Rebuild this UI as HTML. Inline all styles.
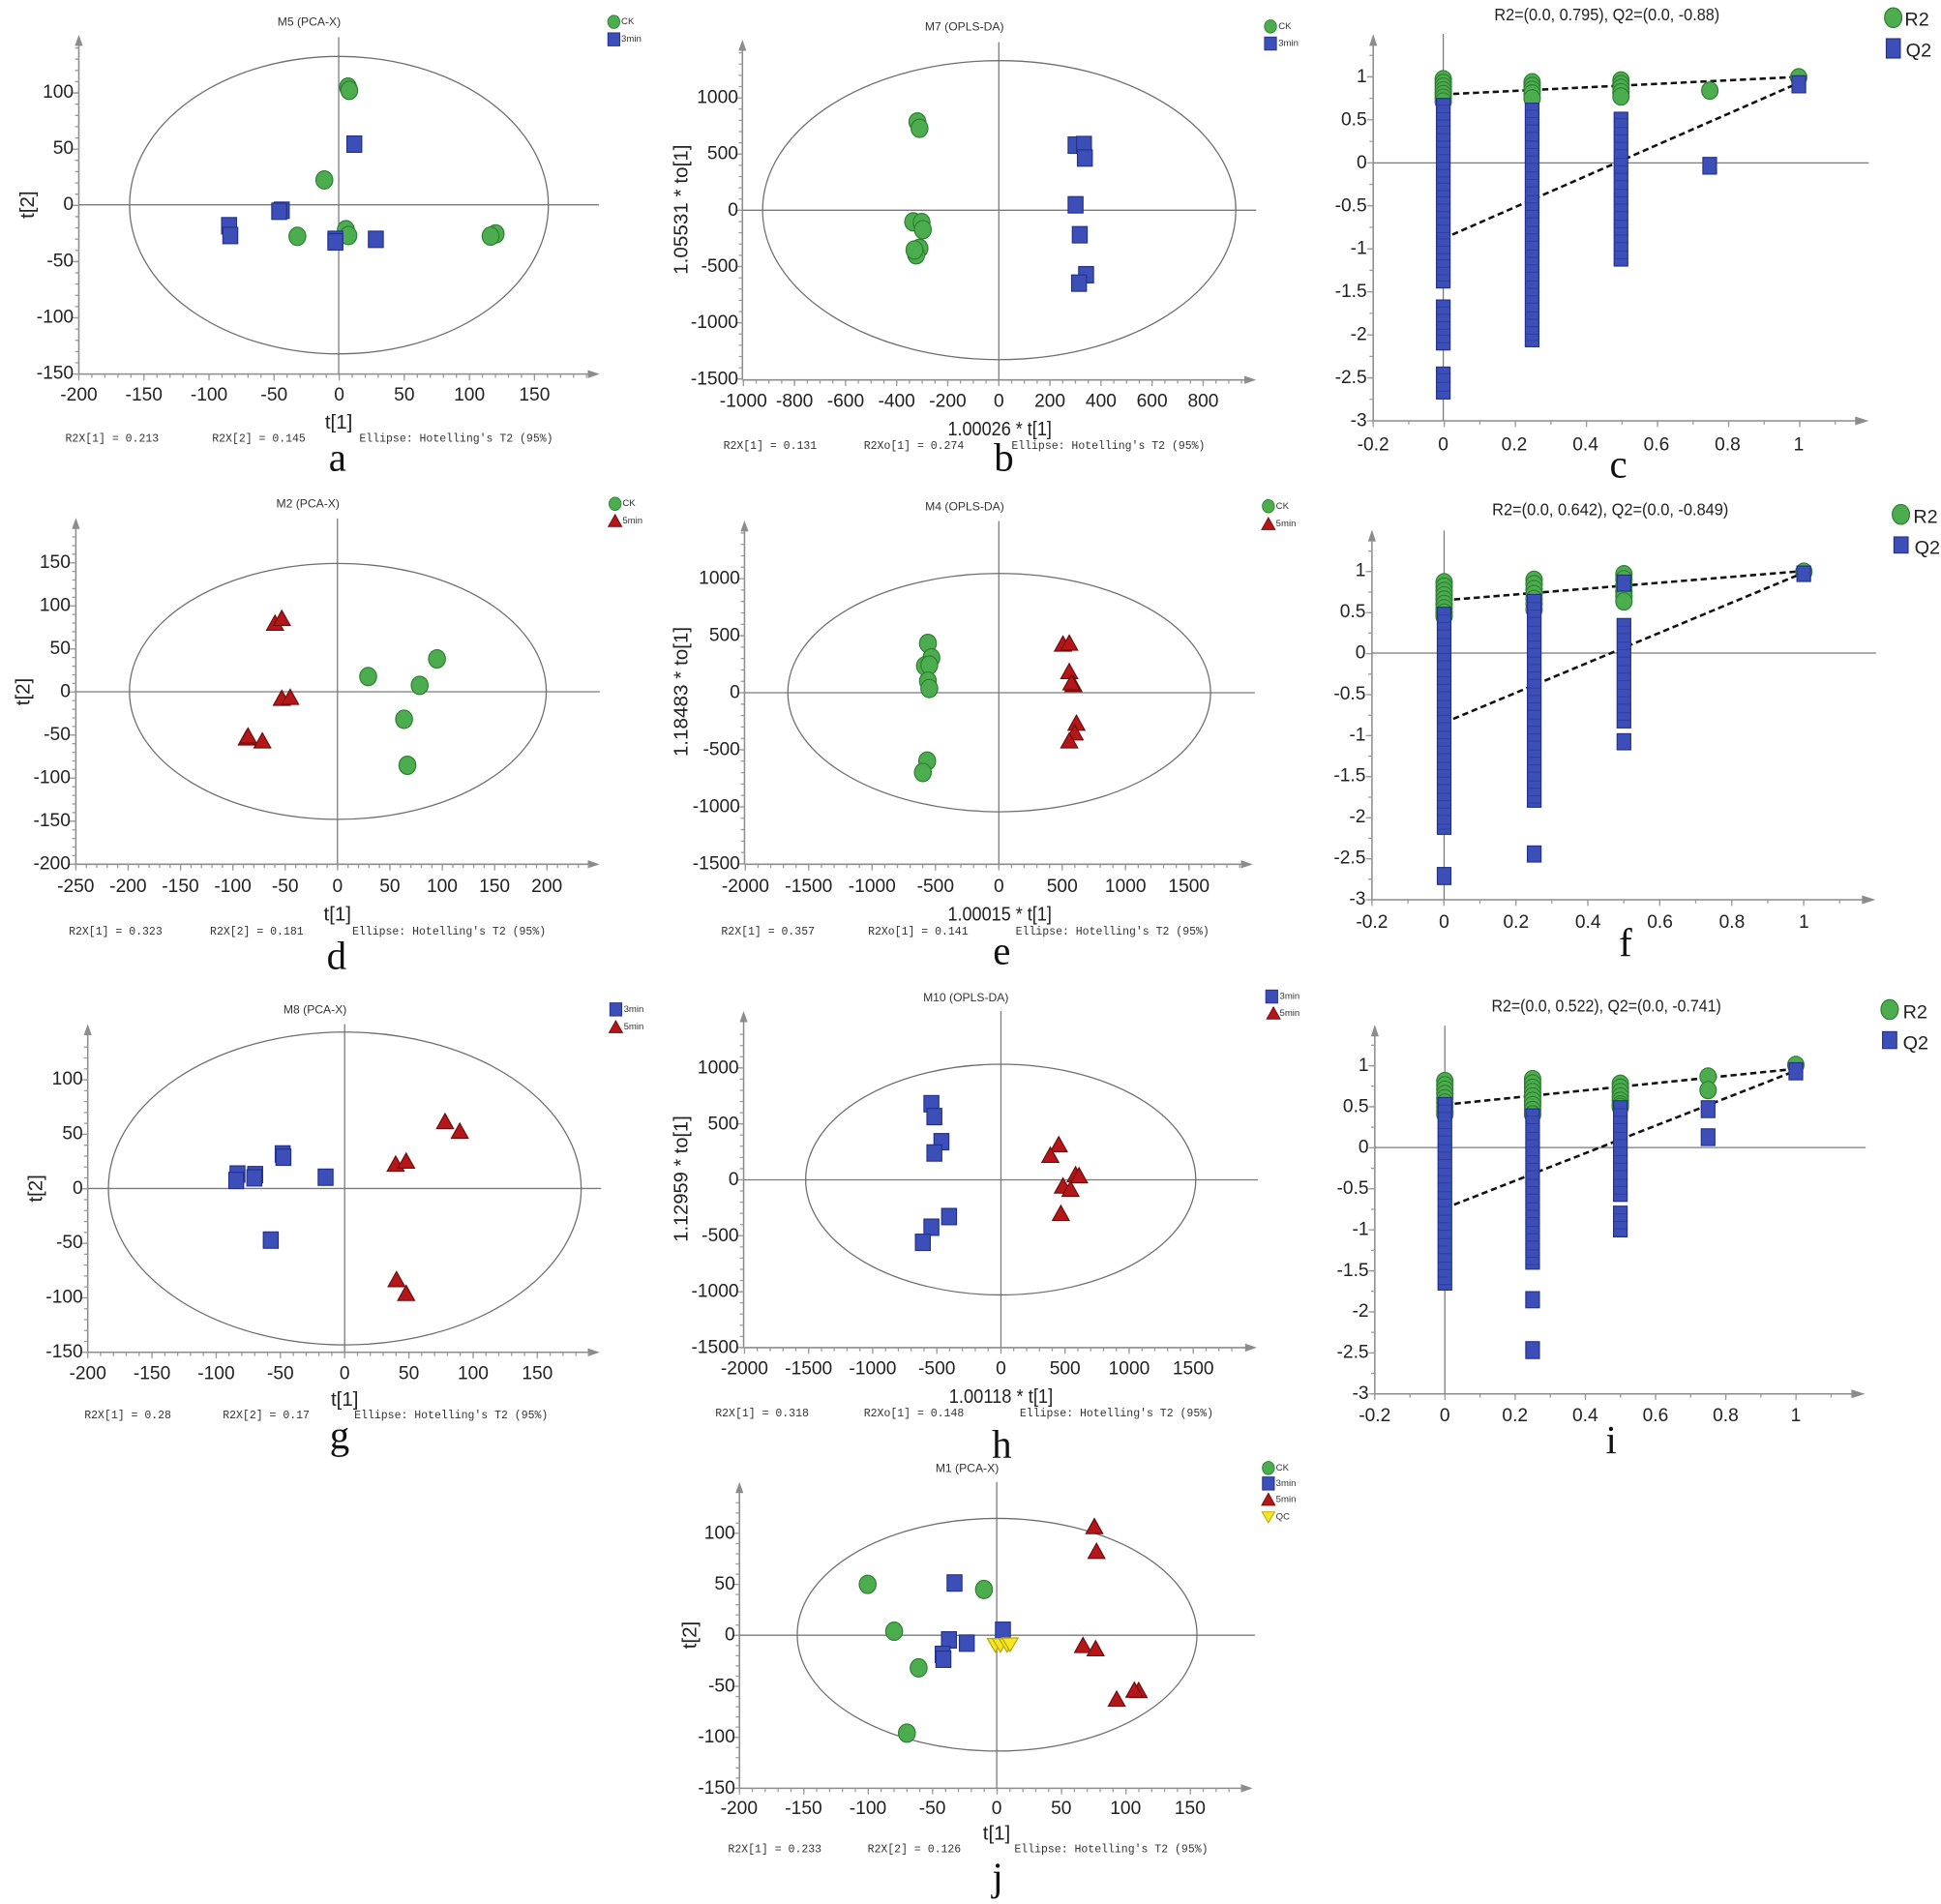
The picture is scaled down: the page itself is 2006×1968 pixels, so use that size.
<!DOCTYPE html>
<html><head><meta charset="utf-8">
<style>
html,body{margin:0;padding:0;background:#fff;}
svg{display:block;}
text{font-family:"Liberation Sans",sans-serif;dominant-baseline:central;}
.tk{font-size:15px;fill:#222;}
.ye{text-anchor:end;}
.mid{text-anchor:middle;}
.ft{font-family:"Liberation Mono",monospace;font-size:9px;fill:#333;}
.ttl{font-size:9.5px;fill:#333;text-anchor:middle;}
.lg{font-size:7.5px;fill:#333;}
.lab{font-size:16px;fill:#222;text-anchor:middle;}
.ax{stroke:#8c8c8c;stroke-width:1.2;fill:none;}
.cr{stroke:#7a7a7a;stroke-width:1;}
.el{stroke:#6e6e6e;stroke-width:1;fill:none;}
.mt{stroke:#9a9a9a;fill:none;}
.pl{font-family:"Liberation Serif",serif;font-size:32px;fill:#111;text-anchor:middle;dominant-baseline:alphabetic;}
.dl{stroke:#111;stroke-width:2;stroke-dasharray:5 3;fill:none;}
.ar{fill:#8c8c8c;}
.qb{fill:#3c4eb8;stroke:#243189;stroke-width:0.9;}
.st{stroke:#26338c;stroke-width:0.8;fill:none;stroke-opacity:0.55;}
.big{font-size:15.5px;fill:#222;}
.rt{font-size:13.5px;fill:#222;text-anchor:middle;}
</style></head><body>
<svg width="2006" height="1968" viewBox="0 0 1568.4 1538.6" preserveAspectRatio="none">
<defs>
<ellipse id="G" rx="6.8" ry="7.4" fill="#4bad4e" stroke="#2e7d32" stroke-width="0.9"/>
<rect id="B" x="-6" y="-6.6" width="12" height="13.2" fill="#3c4eb8" stroke="#243189" stroke-width="0.9"/>
<path id="R" d="M0,-7.2 L6.8,5 L-6.8,5 Z" fill="#b5161a" stroke="#6e0b0b" stroke-width="0.9"/>
<path id="Y" d="M-6.5,-5 L6.5,-5 L0,6 Z" fill="#f5e625" stroke="#b7a400" stroke-width="0.9"/>
<ellipse id="g2" rx="6.6" ry="7" fill="#4bad4e" stroke="#2e7d32" stroke-width="0.9"/>
</defs>
<rect x="0" y="0" width="1568.4" height="1538.6" fill="#fff"/>

<!-- ================= PANEL a ================= -->
<text class="ttl" x="249.8" y="17.7">M5 (PCA-X)</text>
<use href="#G" transform="translate(496,17.7) scale(0.72)"/>
<text class="lg" x="502" y="17.7">CK</text>
<use href="#B" transform="translate(496,31.8) scale(0.8)"/>
<text class="lg" x="502" y="31.8">3min</text>
<line class="ax" x1="63.7" y1="302.3" x2="63.7" y2="34"/>
<path class="ar" d="M63.7,28 L60.5,37 L66.9,37Z"/>
<line class="ax" x1="63.7" y1="302.3" x2="478" y2="302.3"/>
<path class="ar" d="M484.5,302.3 L475,299 L475,305.6Z"/>
<line class="cr" x1="273.7" y1="30" x2="273.7" y2="302.3"/>
<line class="cr" x1="63.7" y1="165.5" x2="484" y2="165.5"/>
<ellipse class="el" cx="273.9" cy="165.8" rx="169.2" ry="120.2"/>
<line class="mt" x1="62.2" y1="302.8" x2="62.2" y2="38" stroke-width="3" stroke-dasharray="1 8.088"/>
<line class="mt" x1="61.2" y1="302.8" x2="61.2" y2="70" stroke-width="5" stroke-dasharray="1 44.44"/>
<line class="mt" x1="63.2" y1="303.8" x2="478" y2="303.8" stroke-width="3" stroke-dasharray="1 9.52"/>
<line class="mt" x1="63.2" y1="304.8" x2="470" y2="304.8" stroke-width="5" stroke-dasharray="1 51.6"/>
<g class="tk ye">
<text x="59.5" y="74.6">100</text><text x="59.5" y="120.1">50</text><text x="59.5" y="165.5">0</text>
<text x="59.5" y="210.9">-50</text><text x="59.5" y="256.4">-100</text><text x="59.5" y="301.8">-150</text>
</g>
<g class="tk mid">
<text x="63.7" y="319.3">-200</text><text x="116.3" y="319.3">-150</text><text x="168.9" y="319.3">-100</text>
<text x="221.5" y="319.3">-50</text><text x="274.1" y="319.3">0</text><text x="326.7" y="319.3">50</text>
<text x="379.3" y="319.3">100</text><text x="431.9" y="319.3">150</text>
</g>
<text class="lab" x="22.2" y="165.5" transform="rotate(-90 22.2 165.5)">t[2]</text>
<text class="lab" x="273.7" y="341.4">t[1]</text>
<text class="ft" x="52.8" y="355">R2X[1] = 0.213</text>
<text class="ft" x="171.4" y="355">R2X[2] = 0.145</text>
<text class="ft" x="290.4" y="355">Ellipse: Hotelling's T2 (95%)</text>
<text class="pl" x="272.7" y="380.5">a</text>
<use href="#G" x="281.2" y="70.4"/><use href="#G" x="282.2" y="73"/><use href="#G" x="262.1" y="145.4"/>
<use href="#G" x="240.3" y="191"/><use href="#G" x="279.5" y="185.6"/><use href="#G" x="281.5" y="190.3"/>
<use href="#G" x="400.5" y="189"/><use href="#G" x="396.4" y="190.8"/>
<use href="#B" x="286.3" y="116.5"/><use href="#B" x="227.7" y="169.9"/><use href="#B" x="225.6" y="170.7"/>
<use href="#B" x="185.1" y="182.4"/><use href="#B" x="186.1" y="190.3"/><use href="#B" x="271" y="193.4"/>
<use href="#B" x="271" y="195.5"/><use href="#B" x="303.7" y="193.4"/>

<!-- ================= PANEL b ================= -->
<text class="ttl" x="779.3" y="21.4">M7 (OPLS-DA)</text>
<use href="#G" transform="translate(1026.6,21.4) scale(0.72)"/>
<text class="lg" x="1033" y="21.4">CK</text>
<use href="#B" transform="translate(1026.6,35.2) scale(0.8)"/>
<text class="lg" x="1033" y="35.2">3min</text>
<line class="ax" x1="599.9" y1="307" x2="599.9" y2="38"/>
<path class="ar" d="M599.9,32 L596.7,41 L603.1,41Z"/>
<line class="ax" x1="599.9" y1="307" x2="1008" y2="307"/>
<path class="ar" d="M1015,307 L1005.5,303.7 L1005.5,310.3Z"/>
<line class="cr" x1="807.1" y1="34" x2="807.1" y2="307"/>
<line class="cr" x1="599.9" y1="169.9" x2="1015" y2="169.9"/>
<ellipse class="el" cx="807.4" cy="169.8" rx="191.2" ry="120.8"/>
<line class="mt" x1="598.4" y1="306.8" x2="598.4" y2="40" stroke-width="3" stroke-dasharray="1 8.09"/>
<line class="mt" x1="597.4" y1="306.8" x2="597.4" y2="75" stroke-width="5" stroke-dasharray="1 44.45"/>
<line class="mt" x1="600.2" y1="308.5" x2="1005" y2="308.5" stroke-width="3" stroke-dasharray="1 9.32"/>
<line class="mt" x1="600.2" y1="309.5" x2="990" y2="309.5" stroke-width="5" stroke-dasharray="1 40.28"/>
<g class="tk ye">
<text x="596.5" y="79">1000</text><text x="596.5" y="124.5">500</text><text x="596.5" y="169.9">0</text>
<text x="596.5" y="215.4">-500</text><text x="596.5" y="260.8">-1000</text><text x="596.5" y="306.3">-1500</text>
</g>
<g class="tk mid">
<text x="600.7" y="324.5">-1000</text><text x="642" y="324.5">-800</text><text x="683.3" y="324.5">-600</text>
<text x="724.5" y="324.5">-400</text><text x="765.8" y="324.5">-200</text><text x="807.1" y="324.5">0</text>
<text x="848.4" y="324.5">200</text><text x="889.7" y="324.5">400</text><text x="930.9" y="324.5">600</text>
<text x="972.2" y="324.5">800</text>
</g>
<text class="lab" x="550.5" y="169.4" textLength="105" lengthAdjust="spacingAndGlyphs" transform="rotate(-90 550.5 169.4)">1.05531 * to[1]</text>
<text class="lab" x="807.8" y="346.6" textLength="84" lengthAdjust="spacingAndGlyphs">1.00026 * t[1]</text>
<text class="ft" x="584.5" y="361">R2X[1] = 0.131</text>
<text class="ft" x="698" y="361">R2Xo[1] = 0.274</text>
<text class="ft" x="817.3" y="361">Ellipse: Hotelling's T2 (95%)</text>
<text class="pl" x="811.2" y="380.5">b</text>
<use href="#G" x="741.3" y="98.5"/><use href="#G" x="743" y="103.7"/>
<use href="#G" x="737.9" y="179.3"/><use href="#G" x="744.7" y="179.8"/><use href="#G" x="745.7" y="185.6"/>
<use href="#G" x="743" y="200.7"/><use href="#G" x="740.3" y="205.9"/><use href="#G" x="738.9" y="202"/>
<use href="#B" x="869.1" y="117.3"/><use href="#B" x="875.9" y="116.8"/><use href="#B" x="876.6" y="127.7"/>
<use href="#B" x="869.1" y="165.5"/><use href="#B" x="872.5" y="189.7"/><use href="#B" x="877.6" y="222"/>
<use href="#B" x="871.9" y="228.8"/>

<!-- ================= PANEL c ================= -->
<text class="rt" x="1298.5" y="11.7" textLength="182" lengthAdjust="spacingAndGlyphs">R2=(0.0, 0.795), Q2=(0.0, -0.88)</text>
<ellipse cx="1529.8" cy="14.3" rx="7" ry="8" fill="#4bad4e" stroke="#2e7d32" stroke-width="0.9"/>
<text class="big" x="1539" y="16">R2</text>
<rect x="1524.2" y="31.3" width="11.3" height="15.6" class="qb"/>
<text class="big" x="1540" y="41">Q2</text>
<line class="ax" x1="1109.6" y1="340.1" x2="1109.6" y2="34"/>
<path class="ar" d="M1109.6,27.5 L1106.4,37 L1112.8,37Z"/>
<line class="ax" x1="1109.6" y1="340.1" x2="1500" y2="340.1"/>
<path class="ar" d="M1510,340.1 L1499,336.6 L1499,343.6Z"/>
<line class="cr" x1="1166.2" y1="27.4" x2="1166.2" y2="340.1" stroke="#aaa"/>
<line class="cr" x1="1109.6" y1="131.6" x2="1510" y2="131.6" stroke="#999"/>
<line class="mt" x1="1108.1" y1="340.6" x2="1108.1" y2="40" stroke-width="3" stroke-dasharray="1 16.375"/>
<line class="mt" x1="1107.1" y1="340.6" x2="1107.1" y2="55" stroke-width="5" stroke-dasharray="1 33.75"/>
<line class="mt" x1="1109.1" y1="341.6" x2="1490" y2="341.6" stroke-width="3" stroke-dasharray="1 27.72"/>
<line class="mt" x1="1109.1" y1="342.6" x2="1460" y2="342.6" stroke-width="5" stroke-dasharray="1 56.44"/>
<g class="tk ye">
<text x="1104.5" y="62.1">1</text><text x="1104.5" y="96.9">0.5</text><text x="1104.5" y="131.6">0</text>
<text x="1104.5" y="166.4">-0.5</text><text x="1104.5" y="201.1">-1</text><text x="1104.5" y="235.9">-1.5</text>
<text x="1104.5" y="270.6">-2</text><text x="1104.5" y="305.4">-2.5</text><text x="1104.5" y="340.1">-3</text>
</g>
<g class="tk mid">
<text x="1109.6" y="359.7">-0.2</text><text x="1166.2" y="359.7">0</text><text x="1223.6" y="359.7">0.2</text>
<text x="1281.1" y="359.7">0.4</text><text x="1338.5" y="359.7">0.6</text><text x="1396" y="359.7">0.8</text>
<text x="1453.4" y="359.7">1</text>
</g>
<line class="dl" x1="1166.2" y1="76.3" x2="1453.4" y2="62.1"/>
<line class="dl" x1="1166.2" y1="192.8" x2="1453.4" y2="67"/>
<use href="#g2" x="1166.2" y="64"/><use href="#g2" x="1166.2" y="67"/><use href="#g2" x="1166.2" y="70"/>
<use href="#g2" x="1166.2" y="73"/><use href="#g2" x="1166.2" y="76"/><use href="#g2" x="1166.2" y="79"/><use href="#g2" x="1166.2" y="82"/>
<use href="#g2" x="1238" y="66.5"/><use href="#g2" x="1238" y="69.5"/><use href="#g2" x="1238" y="72.5"/>
<use href="#g2" x="1238" y="75.5"/><use href="#g2" x="1238" y="79.5"/>
<use href="#g2" x="1309.8" y="65"/><use href="#g2" x="1309.8" y="68"/><use href="#g2" x="1309.8" y="71"/>
<use href="#g2" x="1309.8" y="74.5"/><use href="#g2" x="1309.8" y="78"/>
<use href="#g2" x="1381.6" y="73.2"/>
<use href="#g2" x="1453.4" y="62.5"/>
<rect class="qb" x="1160.7" y="79.5" width="11" height="153.2"/>
<rect class="qb" x="1160.7" y="242.4" width="11" height="40.4"/>
<rect class="qb" x="1160.7" y="296.6" width="11" height="25.8"/>
<rect class="qb" x="1232.5" y="83.4" width="11" height="196.8"/>
<rect class="qb" x="1304.3" y="90.7" width="11" height="124.3"/>
<rect class="qb" x="1376" y="127.2" width="11" height="13.5"/>
<rect class="qb" x="1448" y="61.2" width="11" height="13.8"/>
<path class="st" d="M1160.7,85h11M1160.7,91h11M1160.7,97h11M1160.7,102h11M1160.7,108h11M1160.7,114h11M1160.7,119h11M1160.7,125h11M1160.7,131h11M1160.7,137h11M1160.7,143h11M1160.7,148h11M1160.7,154h11M1160.7,159h11M1160.7,165h11M1160.7,171h11M1160.7,176h11M1160.7,182h11M1160.7,188h11M1160.7,193h11M1160.7,199h11M1160.7,205h11M1160.7,210h11M1160.7,216h11M1160.7,222h11M1160.7,227h11M1160.7,248h11M1160.7,254h11M1160.7,260h11M1160.7,266h11M1160.7,271h11M1160.7,277h11M1160.7,302h11M1160.7,309h11M1160.7,316h11
M1232.5,89h11M1232.5,95h11M1232.5,101h11M1232.5,107h11M1232.5,114h11M1232.5,120h11M1232.5,126h11M1232.5,132h11M1232.5,139h11M1232.5,145h11M1232.5,151h11M1232.5,158h11M1232.5,164h11M1232.5,170h11M1232.5,176h11M1232.5,183h11M1232.5,189h11M1232.5,195h11M1232.5,202h11M1232.5,208h11M1232.5,214h11M1232.5,220h11M1232.5,227h11M1232.5,233h11M1232.5,239h11M1232.5,245h11M1232.5,252h11M1232.5,258h11M1232.5,264h11M1232.5,270h11M1232.5,275h11
M1304.3,96h11M1304.3,103h11M1304.3,109h11M1304.3,115h11M1304.3,121h11M1304.3,128h11M1304.3,134h11M1304.3,140h11M1304.3,146h11M1304.3,153h11M1304.3,159h11M1304.3,165h11M1304.3,171h11M1304.3,178h11M1304.3,184h11M1304.3,190h11M1304.3,196h11M1304.3,203h11M1304.3,209h11"/>
<text class="pl" x="1307.7" y="385.7">c</text>

<!-- ================= PANEL d ================= -->
<text class="ttl" x="248.8" y="407">M2 (PCA-X)</text>
<use href="#G" transform="translate(497,407.1) scale(0.72)"/>
<text class="lg" x="503" y="407.1">CK</text>
<use href="#R" transform="translate(497,421.5) scale(0.8)"/>
<text class="lg" x="503" y="420.9">5min</text>
<line class="ax" x1="61.3" y1="698.4" x2="61.3" y2="424"/>
<path class="ar" d="M61.3,418.5 L58.1,427.5 L64.5,427.5Z"/>
<line class="ax" x1="61.3" y1="698.4" x2="477" y2="698.4"/>
<path class="ar" d="M484.5,698.4 L475,695.1 L475,701.7Z"/>
<line class="cr" x1="272.7" y1="419" x2="272.7" y2="698.4"/>
<line class="cr" x1="61.3" y1="559" x2="484.7" y2="559"/>
<ellipse class="el" cx="273" cy="558.7" rx="168.4" ry="103.4"/>
<line class="mt" x1="59.8" y1="698.9" x2="59.8" y2="428" stroke-width="3" stroke-dasharray="1 5.96"/>
<line class="mt" x1="58.8" y1="698.9" x2="58.8" y2="450" stroke-width="5" stroke-dasharray="1 33.8"/>
<line class="mt" x1="60.8" y1="699.9" x2="477" y2="699.9" stroke-width="3" stroke-dasharray="1 7.46"/>
<line class="mt" x1="60.8" y1="700.9" x2="470" y2="700.9" stroke-width="5" stroke-dasharray="1 41.3"/>
<g class="tk ye">
<text x="57" y="454.6">150</text><text x="57" y="489.4">100</text><text x="57" y="524.2">50</text>
<text x="57" y="559">0</text><text x="57" y="593.8">-50</text><text x="57" y="628.6">-100</text>
<text x="57" y="663.4">-150</text><text x="57" y="698.2">-200</text>
</g>
<g class="tk mid">
<text x="61.2" y="716.7">-250</text><text x="103.5" y="716.7">-200</text><text x="145.8" y="716.7">-150</text>
<text x="188.1" y="716.7">-100</text><text x="230.4" y="716.7">-50</text><text x="272.7" y="716.7">0</text>
<text x="315" y="716.7">50</text><text x="357.3" y="716.7">100</text><text x="399.6" y="716.7">150</text>
<text x="441.9" y="716.7">200</text>
</g>
<text class="lab" x="18.7" y="559" transform="rotate(-90 18.7 559)">t[2]</text>
<text class="lab" x="272.7" y="738.8">t[1]</text>
<text class="ft" x="55.6" y="753.2">R2X[1] = 0.323</text>
<text class="ft" x="169.7" y="753.2">R2X[2] = 0.181</text>
<text class="ft" x="284.6" y="753.2">Ellipse: Hotelling's T2 (95%)</text>
<text class="pl" x="272" y="783.1">d</text>
<use href="#R" x="222.2" y="504.3"/><use href="#R" x="227.7" y="500.4"/><use href="#R" x="227.7" y="565"/>
<use href="#R" x="234.5" y="564.2"/><use href="#R" x="199.4" y="597"/><use href="#R" x="200.4" y="595.5"/>
<use href="#R" x="212" y="599.4"/>
<use href="#G" x="297.5" y="546.7"/><use href="#G" x="339.1" y="553.8"/><use href="#G" x="353.1" y="532.4"/>
<use href="#G" x="326.5" y="581.2"/><use href="#G" x="329.2" y="618.4"/>

<!-- ================= PANEL e ================= -->
<text class="ttl" x="779.5" y="409.1">M4 (OPLS-DA)</text>
<use href="#G" transform="translate(1024.9,409.1) scale(0.72)"/>
<text class="lg" x="1031" y="409.1">CK</text>
<use href="#R" transform="translate(1024.9,424) scale(0.8)"/>
<text class="lg" x="1031" y="423.5">5min</text>
<line class="ax" x1="601.6" y1="698.4" x2="601.6" y2="426"/>
<path class="ar" d="M601.6,420.5 L598.4,429.5 L604.8,429.5Z"/>
<line class="ax" x1="601.6" y1="698.4" x2="1005" y2="698.4"/>
<path class="ar" d="M1012.3,698.4 L1002.8,695.1 L1002.8,701.7Z"/>
<line class="cr" x1="807.1" y1="421" x2="807.1" y2="698.4"/>
<line class="cr" x1="601.6" y1="559.8" x2="1014" y2="559.8"/>
<ellipse class="el" cx="807.4" cy="559.7" rx="170.8" ry="96.3"/>
<line class="mt" x1="600.1" y1="698.6" x2="600.1" y2="430" stroke-width="3" stroke-dasharray="1 8.22"/>
<line class="mt" x1="599.1" y1="698.6" x2="599.1" y2="460" stroke-width="5" stroke-dasharray="1 45.1"/>
<line class="mt" x1="601.8" y1="699.9" x2="1005" y2="699.9" stroke-width="3" stroke-dasharray="1 9.24"/>
<line class="mt" x1="601.8" y1="700.9" x2="990" y2="700.9" stroke-width="5" stroke-dasharray="1 50.2"/>
<g class="tk ye">
<text x="598" y="467.6">1000</text><text x="598" y="513.7">500</text><text x="598" y="559.8">0</text>
<text x="598" y="605.9">-500</text><text x="598" y="652">-1000</text><text x="598" y="698.1">-1500</text>
</g>
<g class="tk mid">
<text x="602.3" y="716.7">-2000</text><text x="653.5" y="716.7">-1500</text><text x="704.7" y="716.7">-1000</text>
<text x="755.9" y="716.7">-500</text><text x="807.1" y="716.7">0</text><text x="858.3" y="716.7">500</text>
<text x="909.5" y="716.7">1000</text><text x="960.7" y="716.7">1500</text>
</g>
<text class="lab" x="550.5" y="559" textLength="105" lengthAdjust="spacingAndGlyphs" transform="rotate(-90 550.5 559)">1.18483 * to[1]</text>
<text class="lab" x="807.8" y="738.8" textLength="84" lengthAdjust="spacingAndGlyphs">1.00015 * t[1]</text>
<text class="ft" x="582.8" y="753.2">R2X[1] = 0.357</text>
<text class="ft" x="701.4" y="753.2">R2Xo[1] = 0.141</text>
<text class="ft" x="820.7" y="753.2">Ellipse: Hotelling's T2 (95%)</text>
<text class="pl" x="809.5" y="779">e</text>
<use href="#G" x="749.8" y="519.9"/><use href="#G" x="752.6" y="531.6"/><use href="#G" x="747.4" y="538.1"/>
<use href="#G" x="750.9" y="537.4"/><use href="#G" x="749.8" y="550.4"/><use href="#G" x="750.9" y="556.4"/>
<use href="#G" x="749.2" y="615"/><use href="#G" x="745.7" y="624.2"/>
<use href="#R" x="858.9" y="521.2"/><use href="#R" x="864" y="520.4"/><use href="#R" x="864" y="543.4"/>
<use href="#R" x="867.4" y="553.8"/><use href="#R" x="865.7" y="552.5"/><use href="#R" x="869.8" y="585.1"/>
<use href="#R" x="868.4" y="592.9"/><use href="#R" x="864" y="599.4"/>

<!-- ================= PANEL f ================= -->
<text class="rt" x="1301.2" y="411.8" textLength="191" lengthAdjust="spacingAndGlyphs">R2=(0.0, 0.642), Q2=(0.0, -0.849)</text>
<ellipse cx="1536" cy="415.7" rx="7" ry="8" fill="#4bad4e" stroke="#2e7d32" stroke-width="0.9"/>
<text class="big" x="1546" y="418">R2</text>
<rect x="1530.4" y="433.9" width="11.4" height="13" class="qb"/>
<text class="big" x="1547" y="443">Q2</text>
<line class="ax" x1="1108.6" y1="727.1" x2="1108.6" y2="434"/>
<path class="ar" d="M1108.6,428 L1105.4,437.5 L1111.8,437.5Z"/>
<line class="ax" x1="1108.6" y1="727.1" x2="1505" y2="727.1"/>
<path class="ar" d="M1515.5,727.1 L1504.5,723.6 L1504.5,730.6Z"/>
<line class="cr" x1="1166.9" y1="428.7" x2="1166.9" y2="727.1" stroke="#aaa"/>
<line class="cr" x1="1108.6" y1="527.7" x2="1515.9" y2="527.7" stroke="#999"/>
<line class="mt" x1="1107.1" y1="727.6" x2="1107.1" y2="440" stroke-width="3" stroke-dasharray="1 15.575"/>
<line class="mt" x1="1106.1" y1="727.6" x2="1106.1" y2="455" stroke-width="5" stroke-dasharray="1 32.15"/>
<line class="mt" x1="1108.1" y1="728.6" x2="1495" y2="728.6" stroke-width="3" stroke-dasharray="1 28.07"/>
<line class="mt" x1="1108.1" y1="729.6" x2="1465" y2="729.6" stroke-width="5" stroke-dasharray="1 57.14"/>
<g class="tk ye">
<text x="1103.5" y="461.4">1</text><text x="1103.5" y="494.6">0.5</text><text x="1103.5" y="527.7">0</text>
<text x="1103.5" y="560.9">-0.5</text><text x="1103.5" y="594">-1</text><text x="1103.5" y="627.2">-1.5</text>
<text x="1103.5" y="660.3">-2</text><text x="1103.5" y="693.5">-2.5</text><text x="1103.5" y="726.6">-3</text>
</g>
<g class="tk mid">
<text x="1108.6" y="745.3">-0.2</text><text x="1166.9" y="745.3">0</text><text x="1225" y="745.3">0.2</text>
<text x="1283.2" y="745.3">0.4</text><text x="1341.3" y="745.3">0.6</text><text x="1399.5" y="745.3">0.8</text>
<text x="1457.6" y="745.3">1</text>
</g>
<line class="dl" x1="1166.9" y1="485.1" x2="1457.6" y2="461.4"/>
<line class="dl" x1="1166.9" y1="584" x2="1457.6" y2="462.7"/>
<use href="#g2" x="1166.9" y="470.5"/><use href="#g2" x="1166.9" y="474"/><use href="#g2" x="1166.9" y="477.5"/>
<use href="#g2" x="1166.9" y="481"/><use href="#g2" x="1166.9" y="484.5"/><use href="#g2" x="1166.9" y="488"/>
<use href="#g2" x="1166.9" y="491.5"/><use href="#g2" x="1166.9" y="495"/><use href="#g2" x="1166.9" y="498"/>
<use href="#g2" x="1239.6" y="468.5"/><use href="#g2" x="1239.6" y="472"/><use href="#g2" x="1239.6" y="476"/>
<use href="#g2" x="1239.6" y="480"/><use href="#g2" x="1239.6" y="484"/><use href="#g2" x="1239.6" y="488"/>
<use href="#g2" x="1239.6" y="492.5"/>
<use href="#g2" x="1312.2" y="464"/><use href="#g2" x="1312.2" y="468"/><use href="#g2" x="1312.2" y="473"/>
<use href="#g2" x="1312.2" y="478"/><use href="#g2" x="1312.2" y="482"/><use href="#g2" x="1312.2" y="486"/>
<use href="#g2" x="1457.6" y="462"/>
<rect class="qb" x="1161.4" y="490.7" width="11" height="183.5"/>
<rect class="qb" x="1161.4" y="701" width="11" height="13.8"/>
<rect class="qb" x="1234.2" y="480.3" width="11" height="172"/>
<rect class="qb" x="1234.2" y="683.6" width="11" height="13"/>
<rect class="qb" x="1306.7" y="499.8" width="11" height="88.4"/>
<rect class="qb" x="1306.7" y="592.9" width="11" height="13"/>
<rect class="qb" x="1306.7" y="464.7" width="11" height="13"/>
<rect class="qb" x="1452" y="457.4" width="11" height="12.5"/>
<path class="st" d="M1161.4,497h11M1161.4,503h11M1161.4,509h11M1161.4,516h11M1161.4,522h11M1161.4,528h11M1161.4,534h11M1161.4,541h11M1161.4,547h11M1161.4,553h11M1161.4,559h11M1161.4,566h11M1161.4,572h11M1161.4,578h11M1161.4,584h11M1161.4,591h11M1161.4,597h11M1161.4,603h11M1161.4,609h11M1161.4,616h11M1161.4,622h11M1161.4,628h11M1161.4,634h11M1161.4,641h11M1161.4,647h11M1161.4,653h11M1161.4,659h11M1161.4,666h11M1161.4,670h11
M1234.2,487h11M1234.2,493h11M1234.2,499h11M1234.2,506h11M1234.2,512h11M1234.2,518h11M1234.2,524h11M1234.2,531h11M1234.2,537h11M1234.2,543h11M1234.2,549h11M1234.2,556h11M1234.2,562h11M1234.2,568h11M1234.2,574h11M1234.2,581h11M1234.2,587h11M1234.2,593h11M1234.2,599h11M1234.2,606h11M1234.2,612h11M1234.2,618h11M1234.2,624h11M1234.2,631h11M1234.2,637h11M1234.2,643h11M1234.2,649h11
M1306.7,506h11M1306.7,512h11M1306.7,519h11M1306.7,525h11M1306.7,531h11M1306.7,538h11M1306.7,544h11M1306.7,550h11M1306.7,557h11M1306.7,563h11M1306.7,569h11M1306.7,576h11M1306.7,582h11"/>
<text class="pl" x="1313.5" y="772.7">f</text>

<!-- ================= PANEL g ================= -->
<text class="ttl" x="254.6" y="815.7">M8 (PCA-X)</text>
<use href="#B" transform="translate(497.6,815.7) scale(0.8)"/>
<text class="lg" x="504" y="815.7">3min</text>
<use href="#R" transform="translate(497.6,830.5) scale(0.8)"/>
<text class="lg" x="504" y="830">5min</text>
<line class="ax" x1="70.9" y1="1092.8" x2="70.9" y2="833"/>
<path class="ar" d="M70.9,827.5 L67.7,836.5 L74.1,836.5Z"/>
<line class="ax" x1="70.9" y1="1092.8" x2="477" y2="1092.8"/>
<path class="ar" d="M484.5,1092.8 L475,1089.5 L475,1096.1Z"/>
<line class="cr" x1="278.5" y1="827.5" x2="278.5" y2="1092.8"/>
<line class="cr" x1="70.9" y1="960.4" x2="485.7" y2="960.4"/>
<ellipse class="el" cx="278.6" cy="960.4" rx="191" ry="126.4"/>
<line class="mt" x1="69.4" y1="1093.3" x2="69.4" y2="838" stroke-width="3" stroke-dasharray="1 7.81"/>
<line class="mt" x1="68.4" y1="1093.3" x2="68.4" y2="865" stroke-width="5" stroke-dasharray="1 43.04"/>
<line class="mt" x1="70.4" y1="1094.3" x2="477" y2="1094.3" stroke-width="3" stroke-dasharray="1 9.38"/>
<line class="mt" x1="70.4" y1="1095.3" x2="470" y2="1095.3" stroke-width="5" stroke-dasharray="1 50.9"/>
<g class="tk ye">
<text x="67" y="872.3">100</text><text x="67" y="916.4">50</text><text x="67" y="960.4">0</text>
<text x="67" y="1004.4">-50</text><text x="67" y="1048.5">-100</text><text x="67" y="1092.5">-150</text>
</g>
<g class="tk mid">
<text x="70.9" y="1110.3">-200</text><text x="122.8" y="1110.3">-150</text><text x="174.7" y="1110.3">-100</text>
<text x="226.6" y="1110.3">-50</text><text x="278.5" y="1110.3">0</text><text x="330.4" y="1110.3">50</text>
<text x="382.3" y="1110.3">100</text><text x="434.2" y="1110.3">150</text>
</g>
<text class="lab" x="29" y="960.4" transform="rotate(-90 29 960.4)">t[2]</text>
<text class="lab" x="278.5" y="1131">t[1]</text>
<text class="ft" x="68.2" y="1144.1">R2X[1] = 0.28</text>
<text class="ft" x="180" y="1144.1">R2X[2] = 0.17</text>
<text class="ft" x="286.3" y="1144.1">Ellipse: Hotelling's T2 (95%)</text>
<text class="pl" x="274.4" y="1170.2">g</text>
<use href="#B" x="191.9" y="948.7"/><use href="#B" x="190.9" y="953.9"/><use href="#B" x="206.2" y="949.2"/>
<use href="#B" x="205.5" y="951.8"/><use href="#B" x="228.4" y="932.5"/><use href="#B" x="229" y="935.1"/>
<use href="#B" x="263.1" y="951.3"/><use href="#B" x="218.8" y="1002.1"/>
<use href="#R" x="359.6" y="907"/><use href="#R" x="371.5" y="914.8"/><use href="#R" x="319.7" y="941.4"/>
<use href="#R" x="328.2" y="939"/><use href="#R" x="320.4" y="1034.7"/><use href="#R" x="328.2" y="1045.9"/>

<!-- ================= PANEL h ================= -->
<text class="ttl" x="780.5" y="805.9">M10 (OPLS-DA)</text>
<use href="#B" transform="translate(1027.6,805.3) scale(0.8)"/>
<text class="lg" x="1034" y="805.3">3min</text>
<use href="#R" transform="translate(1029,819.5) scale(0.8)"/>
<text class="lg" x="1034" y="819">5min</text>
<line class="ax" x1="600.9" y1="1089" x2="600.9" y2="823"/>
<path class="ar" d="M600.9,817 L597.7,826 L604.1,826Z"/>
<line class="ax" x1="600.9" y1="1089" x2="1008" y2="1089"/>
<path class="ar" d="M1015.6,1089 L1006.1,1085.7 L1006.1,1092.3Z"/>
<line class="cr" x1="808.8" y1="817" x2="808.8" y2="1089"/>
<line class="cr" x1="600.9" y1="953.4" x2="1016.4" y2="953.4"/>
<ellipse class="el" cx="808.6" cy="953.2" rx="157.6" ry="93.2"/>
<line class="mt" x1="599.4" y1="1089.5" x2="599.4" y2="828" stroke-width="3" stroke-dasharray="1 8.04"/>
<line class="mt" x1="598.4" y1="1089.5" x2="598.4" y2="855" stroke-width="5" stroke-dasharray="1 44.2"/>
<line class="mt" x1="601.1" y1="1090.5" x2="1005" y2="1090.5" stroke-width="3" stroke-dasharray="1 9.36"/>
<line class="mt" x1="601.1" y1="1091.5" x2="990" y2="1091.5" stroke-width="5" stroke-dasharray="1 50.8"/>
<g class="tk ye">
<text x="597" y="863.1">1000</text><text x="597" y="908.3">500</text><text x="597" y="953.4">0</text>
<text x="597" y="998.6">-500</text><text x="597" y="1043.8">-1000</text><text x="597" y="1089">-1500</text>
</g>
<g class="tk mid">
<text x="601.6" y="1106.4">-2000</text><text x="653.4" y="1106.4">-1500</text><text x="705.2" y="1106.4">-1000</text>
<text x="757" y="1106.4">-500</text><text x="808.8" y="1106.4">0</text><text x="860.6" y="1106.4">500</text>
<text x="912.4" y="1106.4">1000</text><text x="964.2" y="1106.4">1500</text>
</g>
<text class="lab" x="550.4" y="952.6" textLength="102" lengthAdjust="spacingAndGlyphs" transform="rotate(-90 550.4 952.6)">1.12959 * to[1]</text>
<text class="lab" x="808.8" y="1128.5" textLength="84" lengthAdjust="spacingAndGlyphs">1.00118 * t[1]</text>
<text class="ft" x="578" y="1142.8">R2X[1] = 0.318</text>
<text class="ft" x="698" y="1142.8">R2Xo[1] = 0.148</text>
<text class="ft" x="824" y="1142.8">Ellipse: Hotelling's T2 (95%)</text>
<text class="pl" x="809.5" y="1178">h</text>
<use href="#B" x="752.6" y="891.9"/><use href="#B" x="755" y="902.3"/><use href="#B" x="760.7" y="922.6"/>
<use href="#B" x="755" y="931.7"/><use href="#B" x="766.9" y="983.1"/><use href="#B" x="752.6" y="991.7"/>
<use href="#B" x="745.7" y="1003.9"/>
<use href="#R" x="855.5" y="925.7"/><use href="#R" x="848.7" y="934.3"/><use href="#R" x="869.1" y="950"/>
<use href="#R" x="871.9" y="950.8"/><use href="#R" x="858.9" y="959.1"/><use href="#R" x="865" y="961.7"/>
<use href="#R" x="857.2" y="981.3"/>

<!-- ================= PANEL i ================= -->
<text class="rt" x="1298" y="812.6" textLength="185.5" lengthAdjust="spacingAndGlyphs">R2=(0.0, 0.522), Q2=(0.0, -0.741)</text>
<ellipse cx="1526.9" cy="815.8" rx="7" ry="8" fill="#4bad4e" stroke="#2e7d32" stroke-width="0.9"/>
<text class="big" x="1537.6" y="818">R2</text>
<rect x="1521.2" y="833.7" width="11.4" height="13.6" class="qb"/>
<text class="big" x="1537.6" y="843">Q2</text>
<line class="ax" x1="1110.9" y1="1126.4" x2="1110.9" y2="834"/>
<path class="ar" d="M1110.9,828 L1107.7,837.5 L1114.1,837.5Z"/>
<line class="ax" x1="1110.9" y1="1126.4" x2="1497" y2="1126.4"/>
<path class="ar" d="M1507,1126.4 L1496,1122.9 L1496,1129.9Z"/>
<line class="cr" x1="1167.5" y1="828.8" x2="1167.5" y2="1126.4" stroke="#aaa"/>
<line class="cr" x1="1110.9" y1="927.3" x2="1507.5" y2="927.3" stroke="#999"/>
<line class="mt" x1="1109.4" y1="1126.9" x2="1109.4" y2="840" stroke-width="3" stroke-dasharray="1 15.575"/>
<line class="mt" x1="1108.4" y1="1126.9" x2="1108.4" y2="855" stroke-width="5" stroke-dasharray="1 32.15"/>
<line class="mt" x1="1110.4" y1="1127.9" x2="1490" y2="1127.9" stroke-width="3" stroke-dasharray="1 27.36"/>
<line class="mt" x1="1110.4" y1="1128.9" x2="1460" y2="1128.9" stroke-width="5" stroke-dasharray="1 55.72"/>
<g class="tk ye">
<text x="1106" y="861">1</text><text x="1106" y="894.2">0.5</text><text x="1106" y="927.3">0</text>
<text x="1106" y="960.5">-0.5</text><text x="1106" y="993.6">-1</text><text x="1106" y="1026.8">-1.5</text>
<text x="1106" y="1059.9">-2</text><text x="1106" y="1093.1">-2.5</text><text x="1106" y="1126.2">-3</text>
</g>
<g class="tk mid">
<text x="1110.8" y="1144.1">-0.2</text><text x="1167.5" y="1144.1">0</text><text x="1224.2" y="1144.1">0.2</text>
<text x="1280.9" y="1144.1">0.4</text><text x="1337.7" y="1144.1">0.6</text><text x="1394.4" y="1144.1">0.8</text>
<text x="1451.1" y="1144.1">1</text>
</g>
<line class="dl" x1="1167.5" y1="892.7" x2="1451.1" y2="863.7"/>
<line class="dl" x1="1167.5" y1="976.4" x2="1451.1" y2="865.2"/>
<use href="#g2" x="1167.5" y="873.6"/><use href="#g2" x="1167.5" y="877"/><use href="#g2" x="1167.5" y="880.5"/>
<use href="#g2" x="1167.5" y="884"/><use href="#g2" x="1167.5" y="887.5"/><use href="#g2" x="1167.5" y="891"/>
<use href="#g2" x="1167.5" y="894.5"/><use href="#g2" x="1167.5" y="898"/><use href="#g2" x="1167.5" y="900.5"/>
<use href="#g2" x="1238.4" y="872"/><use href="#g2" x="1238.4" y="875.5"/><use href="#g2" x="1238.4" y="879"/>
<use href="#g2" x="1238.4" y="882.5"/><use href="#g2" x="1238.4" y="886"/><use href="#g2" x="1238.4" y="889.5"/>
<use href="#g2" x="1238.4" y="893"/><use href="#g2" x="1238.4" y="897"/><use href="#g2" x="1238.4" y="900.5"/>
<use href="#g2" x="1309.3" y="875.7"/><use href="#g2" x="1309.3" y="879"/><use href="#g2" x="1309.3" y="882.5"/>
<use href="#g2" x="1309.3" y="886"/><use href="#g2" x="1309.3" y="889.5"/><use href="#g2" x="1309.3" y="892.5"/>
<use href="#g2" x="1309.3" y="894.5"/>
<use href="#g2" x="1380.2" y="870"/><use href="#g2" x="1380.2" y="880.9"/>
<use href="#g2" x="1451.1" y="860.6"/>
<rect class="qb" x="1162" y="886.9" width="11" height="155.6"/>
<rect class="qb" x="1232.9" y="896" width="11" height="129.6"/>
<rect class="qb" x="1232.9" y="1043.8" width="11" height="13"/>
<rect class="qb" x="1232.9" y="1084.2" width="11" height="13.6"/>
<rect class="qb" x="1303.8" y="889.5" width="11" height="81.3"/>
<rect class="qb" x="1303.8" y="974.7" width="11" height="24.8"/>
<rect class="qb" x="1374.7" y="889.5" width="11" height="13.6"/>
<rect class="qb" x="1374.7" y="912.2" width="11" height="13.5"/>
<rect class="qb" x="1445.6" y="858.8" width="11" height="13.8"/>
<path class="st" d="M1162,893h11M1162,899h11M1162,906h11M1162,912h11M1162,918h11M1162,925h11M1162,931h11M1162,937h11M1162,944h11M1162,950h11M1162,956h11M1162,963h11M1162,969h11M1162,975h11M1162,982h11M1162,988h11M1162,994h11M1162,1001h11M1162,1007h11M1162,1013h11M1162,1020h11M1162,1026h11M1162,1032h11M1162,1038h11
M1232.9,902h11M1232.9,908h11M1232.9,915h11M1232.9,921h11M1232.9,927h11M1232.9,934h11M1232.9,940h11M1232.9,946h11M1232.9,953h11M1232.9,959h11M1232.9,965h11M1232.9,972h11M1232.9,978h11M1232.9,984h11M1232.9,991h11M1232.9,997h11M1232.9,1003h11M1232.9,1010h11M1232.9,1016h11M1232.9,1022h11
M1303.8,896h11M1303.8,902h11M1303.8,908h11M1303.8,915h11M1303.8,921h11M1303.8,927h11M1303.8,934h11M1303.8,940h11M1303.8,946h11M1303.8,953h11M1303.8,959h11M1303.8,965h11M1303.8,981h11M1303.8,987h11M1303.8,993h11"/>
<text class="pl" x="1301.9" y="1174.1">i</text>

<!-- ================= PANEL j ================= -->
<text class="ttl" x="781.5" y="1186.3">M1 (PCA-X)</text>
<use href="#G" transform="translate(1024.9,1186.3) scale(0.72)"/>
<text class="lg" x="1031" y="1186.3">CK</text>
<use href="#B" transform="translate(1024.9,1198.8) scale(0.8)"/>
<text class="lg" x="1031" y="1198.8">3min</text>
<use href="#R" transform="translate(1024.9,1212.4) scale(0.8)"/>
<text class="lg" x="1031" y="1211.9">5min</text>
<use href="#Y" transform="translate(1024.9,1225.7) scale(0.8)"/>
<text class="lg" x="1031" y="1225.7">QC</text>
<line class="ax" x1="597.5" y1="1445.1" x2="597.5" y2="1203"/>
<path class="ar" d="M597.5,1197.5 L594.3,1206.5 L600.7,1206.5Z"/>
<line class="ax" x1="597.5" y1="1445.1" x2="1005" y2="1445.1"/>
<path class="ar" d="M1012.2,1445.1 L1002.7,1441.8 L1002.7,1448.4Z"/>
<line class="cr" x1="805.4" y1="1197.6" x2="805.4" y2="1445.1"/>
<line class="cr" x1="597.5" y1="1321.4" x2="1014" y2="1321.4"/>
<ellipse class="el" cx="805.7" cy="1321" rx="161.5" ry="94"/>
<line class="mt" x1="596" y1="1445.6" x2="596" y2="1207" stroke-width="3" stroke-dasharray="1 7.24"/>
<line class="mt" x1="595" y1="1445.6" x2="595" y2="1235" stroke-width="5" stroke-dasharray="1 40.2"/>
<line class="mt" x1="597" y1="1446.6" x2="1005" y2="1446.6" stroke-width="3" stroke-dasharray="1 9.41"/>
<line class="mt" x1="597" y1="1447.6" x2="990" y2="1447.6" stroke-width="5" stroke-dasharray="1 51.05"/>
<g class="tk ye">
<text x="594" y="1239">100</text><text x="594" y="1280.2">50</text><text x="594" y="1321.4">0</text>
<text x="594" y="1362.6">-50</text><text x="594" y="1403.8">-100</text><text x="594" y="1445">-150</text>
</g>
<g class="tk mid">
<text x="597.2" y="1461.6">-200</text><text x="649.3" y="1461.6">-150</text><text x="701.3" y="1461.6">-100</text>
<text x="753.4" y="1461.6">-50</text><text x="805.4" y="1461.6">0</text><text x="857.5" y="1461.6">50</text>
<text x="909.5" y="1461.6">100</text><text x="961.6" y="1461.6">150</text>
</g>
<text class="lab" x="557.3" y="1321.3" transform="rotate(-90 557.3 1321.3)">t[2]</text>
<text class="lab" x="805.3" y="1481.6">t[1]</text>
<text class="ft" x="588.3" y="1494.7">R2X[1] = 0.233</text>
<text class="ft" x="701" y="1494.7">R2X[2] = 0.126</text>
<text class="ft" x="819.7" y="1494.7">Ellipse: Hotelling's T2 (95%)</text>
<text class="pl" x="806.1" y="1527.2">j</text>
<use href="#G" x="701.1" y="1280.3"/><use href="#G" x="795.1" y="1284.4"/><use href="#G" x="722.5" y="1318.2"/>
<use href="#G" x="742.3" y="1347.8"/><use href="#G" x="732.8" y="1400.5"/>
<use href="#B" x="771.3" y="1279.2"/><use href="#B" x="810.4" y="1317.4"/><use href="#B" x="766.8" y="1325.2"/>
<use href="#B" x="781.2" y="1327.8"/><use href="#B" x="761.7" y="1336.9"/><use href="#B" x="762.3" y="1340.8"/>
<use href="#R" x="884.3" y="1234.3"/><use href="#R" x="886" y="1254.3"/><use href="#R" x="875.1" y="1330.4"/>
<use href="#R" x="885.3" y="1333"/><use href="#R" x="902.3" y="1373.8"/><use href="#R" x="920.1" y="1366.8"/>
<use href="#R" x="916.6" y="1366.5"/>
<use href="#Y" x="804.3" y="1329.1"/><use href="#Y" x="808.4" y="1329.1"/><use href="#Y" x="813.8" y="1329.1"/>
<use href="#Y" x="816.2" y="1328.6"/>
</svg>
</body></html>
